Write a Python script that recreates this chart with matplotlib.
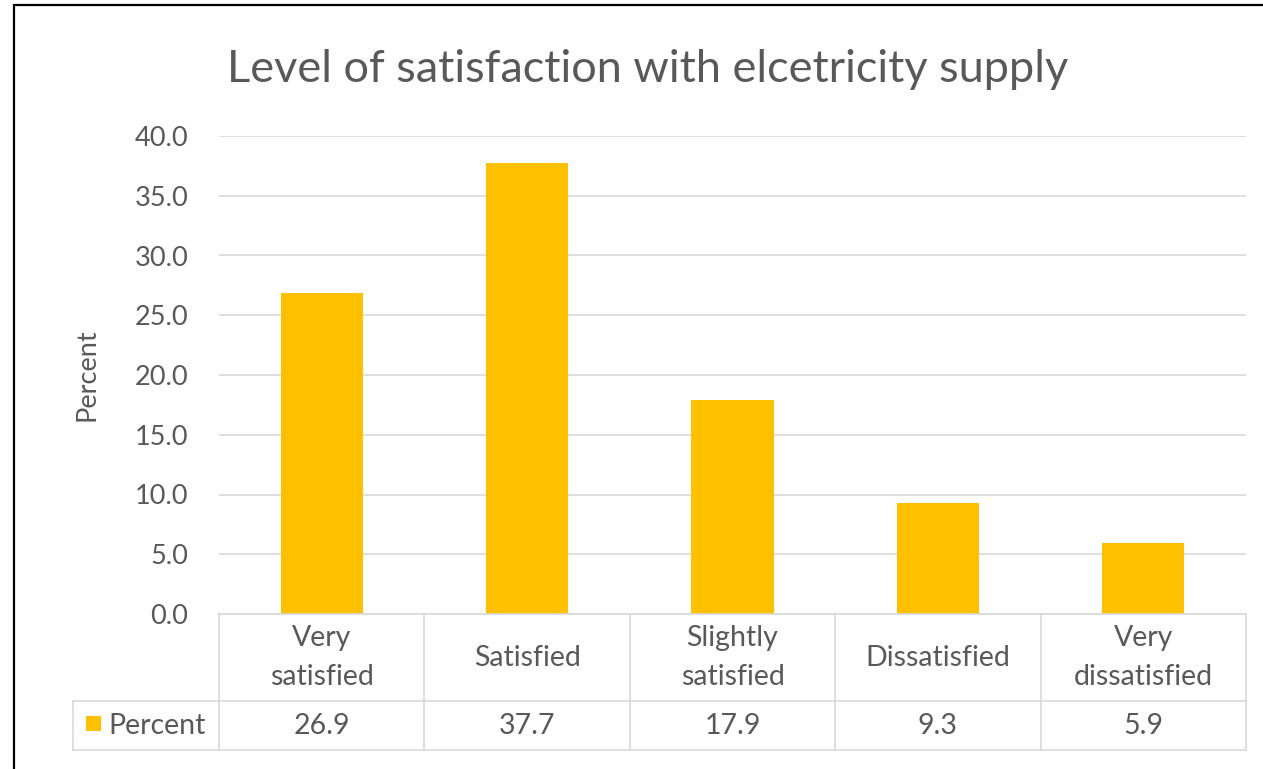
import matplotlib
matplotlib.use("Agg")
import matplotlib.pyplot as plt
from matplotlib.lines import Line2D
from matplotlib.patches import Rectangle
from matplotlib.transforms import blended_transform_factory

# data
categories = ["Very\nsatisfied", "Satisfied", "Slightly\nsatisfied", "Dissatisfied", "Very\ndissatisfied"]
percent = [26.9, 37.7, 17.9, 9.3, 5.9]
series_name = "Percent"
y_ticks = [0, 5, 10, 15, 20, 25, 30, 35, 40]

BAR = "#FFC000"
TXT = "#595959"
GRID = "#D9D9D9"

plt.rcParams["font.family"] = ["Lato", "DejaVu Sans"]

W, H = 1263, 769
fig = plt.figure(figsize=(W / 100, H / 100), dpi=100)

def fx(px):
    return px / W

def fy(py):
    return 1 - py / H

ax = fig.add_axes([fx(219), fy(614), fx(1246) - fx(219), fy(136) - fy(614)])
x = list(range(len(categories)))
ax.bar(x, percent, width=0.4, color=BAR, zorder=3)
ax.set_xlim(-0.5, len(categories) - 0.5)
ax.set_ylim(0, 40)
ax.set_yticks(y_ticks)
ax.set_yticklabels([f"{v:.1f}" for v in y_ticks])
ax.tick_params(axis="y", length=0, pad=22, labelsize=19.5, labelcolor=TXT)
ax.set_xticks([])
ax.grid(axis="y", color=GRID, linewidth=1.2, zorder=0)
for s in ax.spines.values():
    s.set_visible(False)
ax.set_ylabel("Percent", fontsize=19.5, color=TXT, labelpad=25)

fig.text(fx(648), fy(70), "Level of satisfaction with elcetricity supply",
         ha="center", va="center", fontsize=32.5, color=TXT)

# data table below the plot
tr = blended_transform_factory(ax.transData, fig.transFigure)
row_top, row_mid, row_bot = fy(614), fy(701), fy(750)
n = len(categories)
for b in [i - 0.5 for i in range(n + 1)]:
    fig.add_artist(Line2D([b, b], [row_top, row_bot], transform=tr, color=GRID, lw=1.2))
fig.add_artist(Line2D([-0.5, n - 0.5], [row_top, row_top], transform=tr, color=GRID, lw=1.2))
for yy in (row_mid, row_bot):
    fig.add_artist(Line2D([fx(73), fx(1246)], [yy, yy], transform=fig.transFigure, color=GRID, lw=1.2))
fig.add_artist(Line2D([fx(73), fx(73)], [row_mid, row_bot], transform=fig.transFigure, color=GRID, lw=1.2))

for i, (c, v) in enumerate(zip(categories, percent)):
    fig.text(i, (row_top + row_mid) / 2, c, transform=tr, ha="center", va="center",
             fontsize=20.5, color=TXT, linespacing=1.6)
    fig.text(i, (row_mid + row_bot) / 2, f"{v:.1f}", transform=tr, ha="center", va="center",
             fontsize=20.5, color=TXT)

# legend key in the table
fig.add_artist(Rectangle((fx(86), fy(731)), fx(15), fy(716) - fy(731), transform=fig.transFigure,
                         facecolor=BAR, edgecolor="none"))
fig.text(fx(108), (row_mid + row_bot) / 2, series_name, ha="left", va="center", fontsize=20.5, color=TXT)

# chart border
fig.add_artist(Rectangle((fx(14), -0.05), 1.2, fy(5) + 0.05, transform=fig.transFigure,
                         facecolor="none", edgecolor="black", lw=1.6))

fig.savefig("out.png", dpi=100)
